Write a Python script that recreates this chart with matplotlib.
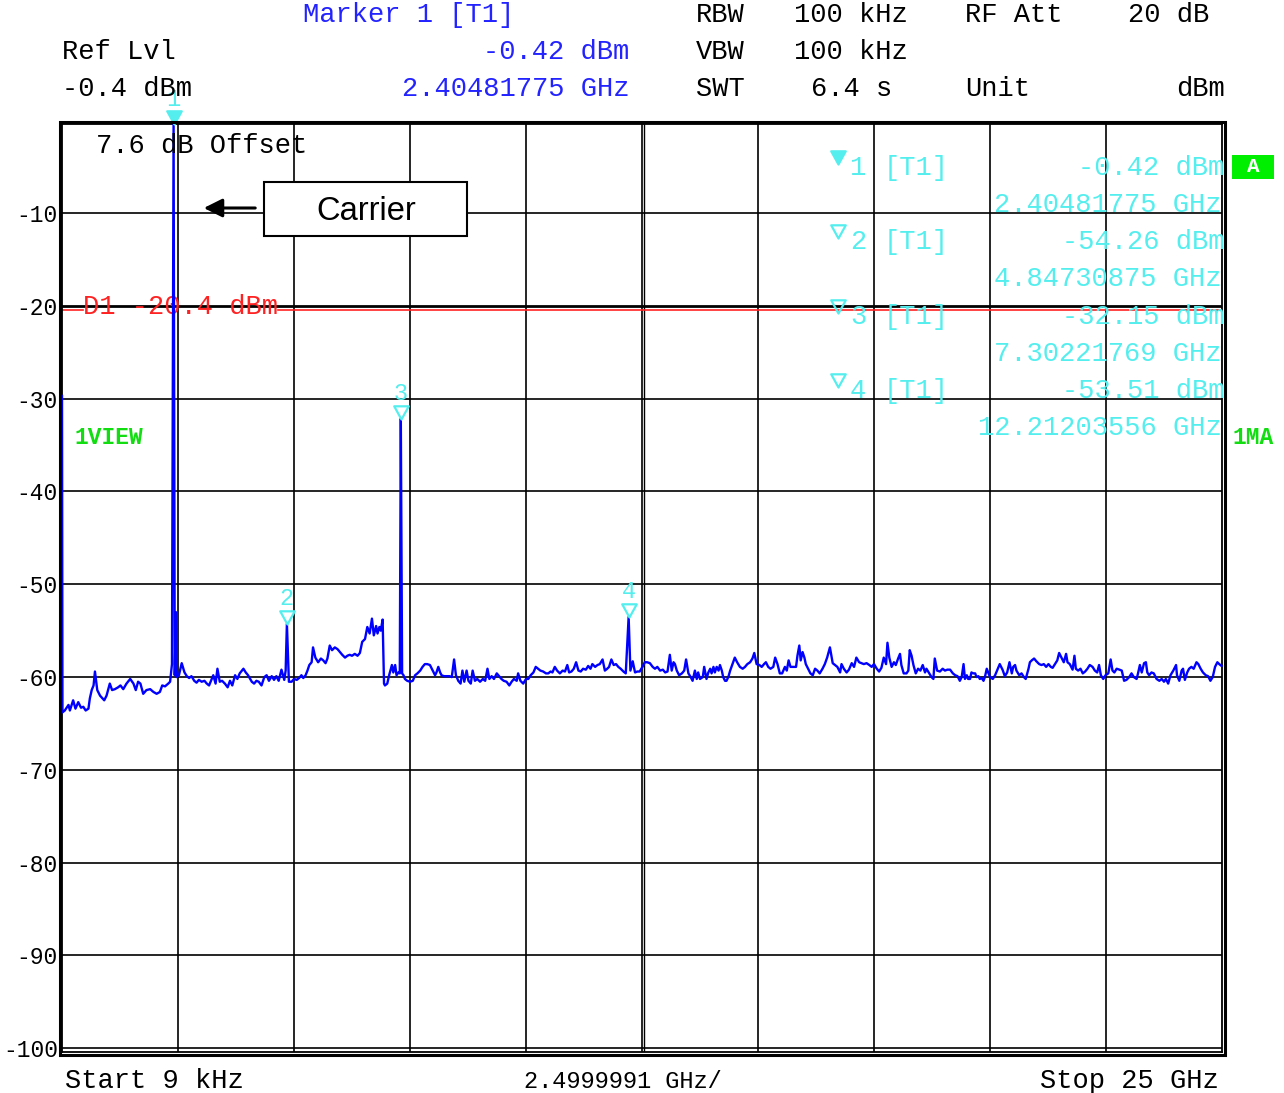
import matplotlib
matplotlib.use("Agg")
import matplotlib.pyplot as plt
from matplotlib.patches import Rectangle
from matplotlib.path import Path
import numpy as np

# spectrum analyzer trace, 9 kHz .. 25 GHz
trace_ghz = [
    0.0, 0.01, 0.06, 0.14, 0.17, 0.24, 0.29, 0.35, 0.41, 0.46,
    0.51, 0.57, 0.60, 0.64, 0.68, 0.71, 0.76, 0.82, 0.91, 0.96,
    1.03, 1.08, 1.14, 1.21, 1.26, 1.32, 1.39, 1.47, 1.54, 1.59,
    1.64, 1.69, 1.75, 1.82, 1.90, 1.97, 2.04, 2.11, 2.16, 2.22,
    2.29, 2.33, 2.37, 2.405, 2.43, 2.455, 2.47, 2.52, 2.58, 2.64,
    2.69, 2.74, 2.79, 2.85, 2.90, 2.95, 3.01, 3.07, 3.12, 3.17,
    3.21, 3.26, 3.31, 3.35, 3.40, 3.45, 3.51, 3.57, 3.62, 3.67,
    3.73, 3.78, 3.83, 3.91, 3.96, 4.01, 4.09, 4.14, 4.19, 4.24,
    4.30, 4.36, 4.41, 4.46, 4.52, 4.57, 4.62, 4.67, 4.73, 4.79,
    4.82, 4.847, 4.89, 4.95, 5.00, 5.06, 5.11, 5.16, 5.20, 5.25,
    5.29, 5.33, 5.38, 5.41, 5.46, 5.52, 5.58, 5.63, 5.68, 5.72,
    5.77, 5.82, 5.88, 5.94, 5.99, 6.04, 6.10, 6.15, 6.20, 6.25,
    6.31, 6.37, 6.42, 6.47, 6.53, 6.58, 6.63, 6.68, 6.72, 6.77,
    6.80, 6.84, 6.87, 6.91, 6.94, 6.96, 7.01, 7.05, 7.11, 7.14,
    7.18, 7.21, 7.25, 7.28, 7.302, 7.33, 7.36, 7.39, 7.44, 7.50,
    7.56, 7.61, 7.66, 7.72, 7.77, 7.82, 7.87, 7.93, 7.99, 8.04,
    8.07, 8.11, 8.15, 8.18, 8.23, 8.29, 8.35, 8.40, 8.45, 8.49,
    8.54, 8.59, 8.63, 8.67, 8.72, 8.76, 8.81, 8.85, 8.90, 8.95,
    9.01, 9.07, 9.12, 9.17, 9.21, 9.26, 9.31, 9.37, 9.42, 9.47,
    9.52, 9.58, 9.64, 9.69, 9.74, 9.80, 9.83, 9.88, 9.94, 10.00,
    10.05, 10.10, 10.16, 10.21, 10.26, 10.31, 10.37, 10.43, 10.48, 10.53,
    10.57, 10.62, 10.67, 10.73, 10.79, 10.84, 10.89, 10.93, 10.98, 11.03,
    11.08, 11.13, 11.18, 11.23, 11.29, 11.34, 11.39, 11.43, 11.49, 11.54,
    11.59, 11.65, 11.70, 11.75, 11.79, 11.84, 11.89, 11.94, 11.99, 12.04,
    12.10, 12.15, 12.212, 12.25, 12.30, 12.35, 12.40, 12.45, 12.51, 12.56,
    12.61, 12.67, 12.73, 12.78, 12.83, 12.89, 12.95, 13.00, 13.05, 13.10,
    13.14, 13.18, 13.21, 13.25, 13.30, 13.36, 13.41, 13.45, 13.50, 13.55,
    13.59, 13.64, 13.68, 13.71, 13.75, 13.81, 13.84, 13.89, 13.93, 13.97,
    14.00, 14.04, 14.07, 14.11, 14.15, 14.18, 14.22, 14.25, 14.29, 14.32,
    14.36, 14.40, 14.45, 14.50, 14.55, 14.61, 14.67, 14.72, 14.77, 14.83,
    14.88, 14.92, 14.97, 15.03, 15.08, 15.13, 15.17, 15.22, 15.27, 15.33,
    15.37, 15.42, 15.47, 15.52, 15.58, 15.62, 15.66, 15.70, 15.76, 15.82,
    15.85, 15.89, 15.92, 15.96, 16.00, 16.03, 16.08, 16.13, 16.18, 16.23,
    16.28, 16.33, 16.39, 16.44, 16.49, 16.55, 16.61, 16.66, 16.71, 16.77,
    16.80, 16.85, 16.91, 16.96, 17.02, 17.07, 17.12, 17.18, 17.23, 17.28,
    17.34, 17.40, 17.45, 17.50, 17.56, 17.61, 17.66, 17.71, 17.76, 17.79,
    17.83, 17.88, 17.93, 17.97, 18.02, 18.06, 18.09, 18.14, 18.20, 18.24,
    18.27, 18.31, 18.35, 18.40, 18.45, 18.50, 18.55, 18.60, 18.63, 18.69,
    18.74, 18.78, 18.81, 18.86, 18.92, 18.98, 19.03, 19.08, 19.14, 19.20,
    19.25, 19.30, 19.35, 19.39, 19.43, 19.46, 19.50, 19.53, 19.57, 19.60,
    19.64, 19.68, 19.71, 19.75, 19.78, 19.82, 19.86, 19.89, 19.93, 19.96,
    20.00, 20.06, 20.11, 20.16, 20.21, 20.27, 20.32, 20.37, 20.42, 20.47,
    20.50, 20.54, 20.57, 20.63, 20.68, 20.73, 20.77, 20.83, 20.86, 20.90,
    20.95, 21.00, 21.06, 21.11, 21.16, 21.21, 21.26, 21.31, 21.35, 21.40,
    21.45, 21.49, 21.54, 21.59, 21.64, 21.67, 21.72, 21.78, 21.82, 21.85,
    21.90, 21.95, 22.00, 22.05, 22.10, 22.15, 22.21, 22.26, 22.31, 22.35,
    22.39, 22.44, 22.49, 22.55, 22.60, 22.64, 22.68, 22.73, 22.79, 22.84,
    22.89, 22.94, 23.00, 23.05, 23.10, 23.16, 23.19, 23.23, 23.27, 23.32,
    23.36, 23.39, 23.43, 23.48, 23.53, 23.59, 23.65, 23.70, 23.75, 23.79,
    23.84, 23.89, 23.95, 24.01, 24.03, 24.08, 24.13, 24.16, 24.20, 24.25,
    24.29, 24.34, 24.39, 24.45, 24.49, 24.54, 24.59, 24.65, 24.70, 24.75,
    24.80, 24.85, 24.90, 24.94, 24.99,
]
trace_dbm = [
    -29.7, -63.8, -63.6, -63.0, -63.6, -62.5, -63.4, -62.7, -63.3, -63.2,
    -63.6, -63.4, -62.3, -61.4, -60.9, -59.4, -61.4, -62.0, -62.5, -62.0,
    -60.7, -61.4, -61.3, -61.1, -60.9, -61.3, -60.7, -60.2, -60.7, -61.4,
    -60.5, -60.7, -61.8, -61.4, -61.3, -61.6, -61.8, -61.6, -60.9, -61.0,
    -60.7, -60.5, -58.6, -0.42, -59.8, -53.0, -60.0, -59.8, -58.5, -59.5,
    -59.9, -60.1, -59.9, -60.4, -60.6, -60.3, -60.5, -60.4, -60.7, -60.9,
    -60.4, -59.8, -60.7, -59.1, -60.5, -60.4, -60.7, -61.1, -60.4, -60.9,
    -59.8, -60.2, -59.6, -59.1, -59.5, -59.8, -60.5, -60.7, -60.4, -60.5,
    -60.9, -60.0, -59.8, -60.4, -59.9, -60.3, -59.9, -60.4, -59.2, -60.3,
    -59.3, -54.26, -60.5, -60.5, -60.2, -60.3, -60.1, -59.8, -60.1, -59.8,
    -59.3, -58.7, -58.4, -56.8, -57.9, -58.4, -58.0, -58.2, -58.5, -58.0,
    -56.6, -57.1, -56.8, -57.0, -57.3, -57.6, -57.9, -57.7, -57.6, -57.7,
    -57.5, -57.7, -57.4, -56.2, -55.9, -54.6, -55.3, -53.7, -55.5, -54.5,
    -55.3, -54.6, -55.0, -53.8, -60.7, -60.9, -60.7, -59.8, -58.7, -59.5,
    -58.7, -59.8, -59.5, -59.6, -32.15, -59.6, -59.8, -60.2, -60.4, -60.5,
    -60.4, -59.8, -59.6, -59.3, -58.9, -58.6, -58.6, -58.7, -59.3, -59.8,
    -59.5, -58.9, -59.5, -59.8, -59.9, -59.9, -59.9, -60.0, -58.1, -59.8,
    -60.4, -60.7, -59.3, -60.5, -59.3, -60.4, -60.7, -59.3, -60.4, -60.2,
    -60.5, -60.2, -60.4, -59.1, -60.2, -59.9, -60.2, -59.6, -59.9, -60.2,
    -60.4, -60.5, -60.9, -60.5, -60.2, -60.4, -59.6, -60.4, -60.7, -60.2,
    -60.2, -59.8, -59.5, -58.9, -59.1, -59.3, -59.4, -59.6, -59.6, -59.4,
    -59.5, -58.9, -59.3, -59.6, -59.3, -59.4, -58.7, -59.5, -59.4, -59.1,
    -58.4, -59.3, -59.4, -59.1, -59.2, -58.8, -59.1, -58.6, -58.9, -58.7,
    -58.6, -58.1, -59.3, -59.1, -58.9, -58.1, -58.7, -58.6, -58.9, -59.1,
    -59.4, -59.6, -53.51, -59.3, -58.3, -59.5, -59.4, -59.4, -58.9, -58.4,
    -58.4, -58.5, -58.9, -59.1, -58.9, -59.3, -59.2, -59.5, -59.4, -57.6,
    -59.3, -58.4, -58.6, -59.3, -59.8, -59.6, -59.3, -58.1, -59.6, -60.0,
    -60.4, -59.3, -60.2, -59.5, -60.2, -60.0, -58.9, -60.2, -59.5, -59.1,
    -59.6, -58.9, -59.5, -58.9, -59.3, -58.7, -59.3, -60.0, -60.4, -60.4,
    -60.0, -59.3, -58.6, -57.9, -58.4, -58.9, -59.1, -58.9, -58.6, -58.4,
    -58.0, -57.4, -58.6, -58.7, -58.9, -58.6, -58.4, -58.9, -59.1, -58.9,
    -57.9, -58.6, -59.6, -59.6, -58.9, -59.3, -58.2, -58.9, -58.9, -58.9,
    -57.7, -56.6, -58.2, -57.3, -57.9, -58.6, -59.1, -59.6, -59.8, -59.1,
    -59.3, -59.6, -59.1, -58.6, -57.9, -56.8, -58.5, -58.7, -58.9, -59.5,
    -58.6, -59.1, -59.5, -59.2, -58.5, -58.9, -57.9, -58.4, -58.5, -58.6,
    -58.5, -58.7, -58.9, -58.6, -59.1, -59.4, -59.0, -57.9, -58.6, -56.3,
    -57.9, -58.9, -58.4, -58.7, -58.0, -57.5, -58.7, -59.6, -59.6, -59.3,
    -57.1, -57.7, -58.7, -59.6, -59.1, -59.3, -58.7, -59.5, -59.1, -59.6,
    -60.0, -60.2, -58.0, -59.3, -59.4, -59.1, -59.3, -59.2, -59.2, -59.6,
    -59.8, -59.9, -60.4, -60.0, -58.6, -60.2, -59.8, -60.2, -60.2, -59.5,
    -59.6, -59.6, -60.0, -59.9, -60.2, -60.1, -60.4, -60.0, -59.1, -59.5,
    -60.0, -60.2, -59.8, -59.2, -58.6, -59.2, -59.9, -59.5, -58.4, -59.6,
    -58.9, -58.7, -59.3, -59.8, -59.6, -60.0, -60.2, -59.1, -58.4, -58.2,
    -58.0, -58.3, -58.6, -58.7, -58.6, -58.9, -58.6, -58.9, -59.0, -58.6,
    -58.2, -57.4, -57.9, -58.4, -57.5, -58.4, -58.6, -59.2, -57.7, -59.1,
    -59.3, -59.1, -59.6, -59.4, -59.1, -58.7, -58.9, -59.3, -59.5, -58.7,
    -59.8, -60.2, -59.8, -59.6, -58.1, -59.3, -59.5, -59.1, -59.2, -59.3,
    -60.4, -60.3, -60.0, -59.6, -60.0, -60.2, -59.6, -58.7, -59.5, -58.5,
    -58.4, -59.5, -59.8, -59.5, -59.6, -60.2, -60.4, -60.2, -60.5, -60.2,
    -60.7, -59.8, -59.3, -58.7, -59.8, -60.4, -59.3, -59.1, -60.3, -59.5,
    -59.1, -58.9, -59.1, -58.4, -58.6, -59.1, -59.5, -59.8, -59.9, -60.4,
    -60.0, -58.9, -58.4, -58.6, -58.8,
]
assert len(trace_ghz) == len(trace_dbm)

# markers
marker_ghz = [2.40481775, 4.84730875, 7.30221769, 12.21203556]
marker_dbm = [-0.42, -54.26, -32.15, -53.51]
marker_freq_txt = ["2.40481775 GHz", "4.84730875 GHz", "7.30221769 GHz", "12.21203556 GHz"]
marker_lvl_txt = ["-0.42 dBm", "-54.26 dBm", "-32.15 dBm", "-53.51 dBm"]

ref_level = -0.4
d1_level = -20.4
y_ticks = [-10, -20, -30, -40, -50, -60, -70, -80, -90, -100]
x_grid = [2.5, 5.0, 7.5, 10.0, 12.5, 15.0, 17.5, 20.0, 22.5]

W, H = 1284, 1093
MONO = "Liberation Mono"
FS = 19.5
BLUE = "#2323ff"
CYAN = "#55eeee"
GREEN = "#11dd11"
RED = "#ff2222"


def px(x, y):
    return x / W, 1 - y / H


fig = plt.figure(figsize=(W / 100, H / 100), dpi=100)
ax = fig.add_axes([62 / W, 1 - 1052 / H, 1160 / W, (1052 - 124) / H])
ax.set_xlim(0, 25)
ax.set_ylim(ref_level - 100, ref_level)

# grid
for g in y_ticks:
    ax.axhline(g, color="black", lw=2.0 if g == -20 else 1.2, zorder=2)
for g in x_grid:
    ax.axvline(g, color="black", lw=1.2, zorder=2)
ax.axvline(12.5 + 0.05, color="black", lw=1.0, zorder=2)

ax.set_xticks([])
ax.set_yticks(y_ticks)
ax.set_yticklabels([str(v) for v in y_ticks], fontfamily=MONO, fontsize=16.5)
ax.tick_params(axis="y", length=0, pad=3)
for s in ax.spines.values():
    s.set_linewidth(1.3)
    s.set_zorder(5)

# outer frame line (double border)
fig.add_artist(Rectangle(px(59.5, 1054.5), 1165 / W, (1054.5 - 121.5) / H,
                         transform=fig.transFigure, fill=False, lw=2.2,
                         edgecolor="black"))

# display line D1
ax.axhline(d1_level, xmin=0, xmax=0.018, color=RED, lw=1.2, zorder=3)
ax.axhline(d1_level, xmin=0.186, xmax=1, color=RED, lw=1.2, zorder=3)
ax.text(*px(83, 307), "D1 -20.4 dBm", transform=fig.transFigure, color=RED,
        fontfamily=MONO, fontsize=FS, va="center", ha="left", zorder=3)

# trace
ax.plot(trace_ghz, trace_dbm, color="#0000ff", lw=1.7, zorder=6, clip_on=False)

# marker symbols
tri = Path([(-0.55, 1.0), (0.55, 1.0), (0.0, 0.0), (-0.55, 1.0)],
           [Path.MOVETO, Path.LINETO, Path.LINETO, Path.CLOSEPOLY])
for i, (f, l) in enumerate(zip(marker_ghz, marker_dbm)):
    face = CYAN if i == 0 else "none"
    ax.plot([f], [l], marker=tri, ms=19, mfc=face, mec=CYAN, mew=1.6,
            ls="none", zorder=7, clip_on=False)
    ax.annotate(str(i + 1), (f, l), xytext=(0, 18), textcoords="offset points",
                ha="center", va="center", color=CYAN, fontfamily=MONO,
                fontsize=17, annotation_clip=False, zorder=7)

# marker table
row_y = [168, 242, 317, 391]
for i in range(4):
    y = row_y[i]
    fig.lines.append(plt.Line2D([838 / W], [1 - (y - 4) / H], marker=tri, ms=19,
                                mfc=CYAN if i == 0 else "none", mec=CYAN,
                                mew=1.6, transform=fig.transFigure))
    fig.text(*px(850, y), str(i + 1), color=CYAN, fontfamily=MONO, fontsize=FS,
             va="center", ha="left")
    fig.text(*px(884, y), "[T1]", color=CYAN, fontfamily=MONO, fontsize=FS,
             va="center", ha="left")
    fig.text(*px(1224, y), marker_lvl_txt[i], color=CYAN, fontfamily=MONO,
             fontsize=FS, va="center", ha="right")
    fig.text(*px(1222, y + 37), marker_freq_txt[i], color=CYAN, fontfamily=MONO,
             fontsize=FS, va="center", ha="right")

# header
hdr = dict(fontfamily=MONO, fontsize=FS, va="center")
fig.text(*px(303, 15), "Marker 1 [T1]", color=BLUE, ha="left", **hdr)
fig.text(*px(62, 52), "Ref Lvl", color="black", ha="left", **hdr)
fig.text(*px(629, 52), "-0.42 dBm", color=BLUE, ha="right", **hdr)
fig.text(*px(62, 89), "-0.4 dBm", color="black", ha="left", **hdr)
fig.text(*px(629, 89), "2.40481775 GHz", color=BLUE, ha="right", **hdr)
fig.text(*px(696, 15), "RBW", ha="left", **hdr)
fig.text(*px(794, 15), "100 kHz", ha="left", **hdr)
fig.text(*px(965, 15), "RF Att", ha="left", **hdr)
fig.text(*px(1209, 15), "20 dB", ha="right", **hdr)
fig.text(*px(696, 52), "VBW", ha="left", **hdr)
fig.text(*px(794, 52), "100 kHz", ha="left", **hdr)
fig.text(*px(696, 89), "SWT", ha="left", **hdr)
fig.text(*px(811, 89), "6.4 s", ha="left", **hdr)
fig.text(*px(965, 89), "Unit", ha="left", **hdr)
fig.text(*px(1225, 89), "dBm", ha="right", **hdr)

fig.text(*px(96, 146), "7.6 dB Offset", ha="left", **hdr)

# footer
fig.text(*px(65, 1081), "Start 9 kHz", ha="left", **hdr)
fig.text(*px(623, 1081), "2.4999991 GHz/", ha="center", fontfamily=MONO,
         fontsize=17, va="center")
fig.text(*px(1219, 1081), "Stop 25 GHz", ha="right", **hdr)

# side annotations
fig.text(*px(74, 437), "1VIEW", color=GREEN, fontfamily=MONO, fontsize=16.5,
         fontweight="bold", va="center", ha="left")
fig.text(*px(1232, 437), "1MA", color=GREEN, fontfamily=MONO, fontsize=16.5,
         fontweight="bold", va="center", ha="left")
fig.add_artist(Rectangle(px(1232, 179), 42 / W, 24 / H, transform=fig.transFigure,
                         facecolor="#00ee00", edgecolor="none"))
fig.text(*px(1253, 166), "A", color="white", fontfamily=MONO, fontsize=15,
         fontweight="bold", va="center", ha="center")

# carrier label box with arrow
fig.add_artist(Rectangle(px(264, 236), 203 / W, 54 / H, transform=fig.transFigure,
                         facecolor="white", edgecolor="black", lw=1.5, zorder=7))
fig.text(*px(366, 211), "Carrier", fontfamily="Liberation Sans", fontsize=23.5,
         va="center", ha="center", zorder=8)
ax.annotate("", xy=px(201, 208), xytext=px(258, 208), xycoords="figure fraction",
            textcoords="figure fraction",
            arrowprops=dict(arrowstyle="-|>", lw=2.2, color="black",
                            mutation_scale=28), zorder=8)

fig.savefig("out.png", dpi=100)
